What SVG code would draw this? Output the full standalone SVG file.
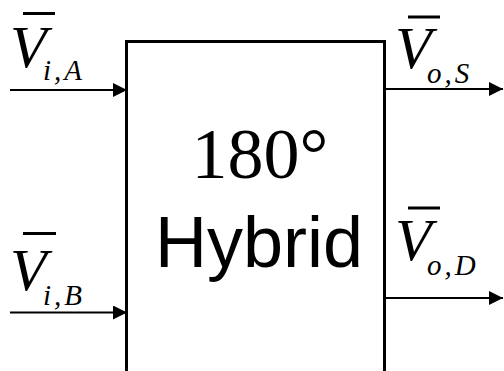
<svg xmlns="http://www.w3.org/2000/svg" width="504" height="371" viewBox="0 0 504 371">
<style>
.v{font-family:"Liberation Serif","Times New Roman",serif;font-style:italic;font-size:60px;fill:#000}
.s{font-family:"Liberation Serif","Times New Roman",serif;font-style:italic;font-size:29px;letter-spacing:3px;fill:#000}
.t{font-family:"Times New Roman","Liberation Serif","DejaVu Serif",serif;font-style:normal;font-weight:normal;font-size:72px;fill:#000}
.h{font-family:"Liberation Sans",Arial,sans-serif;font-size:72px;fill:#000}
.bar{stroke:#000;stroke-width:3}
.ln{stroke:#000;stroke-width:2;fill:none}
</style>
<defs>
<marker id="ah" viewBox="0 0 14 14" refX="14" refY="7" markerWidth="14" markerHeight="14" markerUnits="userSpaceOnUse" orient="auto">
<path d="M0,0 L14,7 L0,14 Z" fill="#000"/>
</marker>
</defs>
<g id="hybrid">
<path d="M126.5,372 L126.5,41.5 L384.5,41.5 L384.5,372" fill="#fff" stroke="#000" stroke-width="3"/>
<text class="t" x="260" y="178" text-anchor="middle">180°</text>
<text class="h" x="259" y="267" text-anchor="middle">Hybrid</text>
</g>
<g id="connectors">
<line class="ln" x1="10" y1="90" x2="127" y2="90" marker-end="url(#ah)"/>
<line class="ln" x1="10" y1="312.5" x2="127" y2="312.5" marker-end="url(#ah)"/>
<line class="ln" x1="386" y1="89" x2="503" y2="89" marker-end="url(#ah)"/>
<line class="ln" x1="386" y1="298" x2="503" y2="298" marker-end="url(#ah)"/>
</g>
<g id="label-via">
<line class="bar" x1="23" y1="13.5" x2="55" y2="13.5"/>
<text class="v" x="10" y="67">V</text>
<text class="s" x="43" y="80">i,A</text>
</g>
<g id="label-vib">
<line class="bar" x1="23" y1="233.5" x2="56" y2="233.5"/>
<text class="v" x="10" y="290">V</text>
<text class="s" x="43" y="305">i,B</text>
</g>
<g id="label-vos">
<line class="bar" x1="408" y1="17" x2="440" y2="17"/>
<text class="v" x="395" y="68">V</text>
<text class="s" x="427" y="83">o,S</text>
</g>
<g id="label-vod">
<line class="bar" x1="408" y1="208" x2="440" y2="208"/>
<text class="v" x="395" y="260">V</text>
<text class="s" x="427" y="275">o,D</text>
</g>
</svg>
